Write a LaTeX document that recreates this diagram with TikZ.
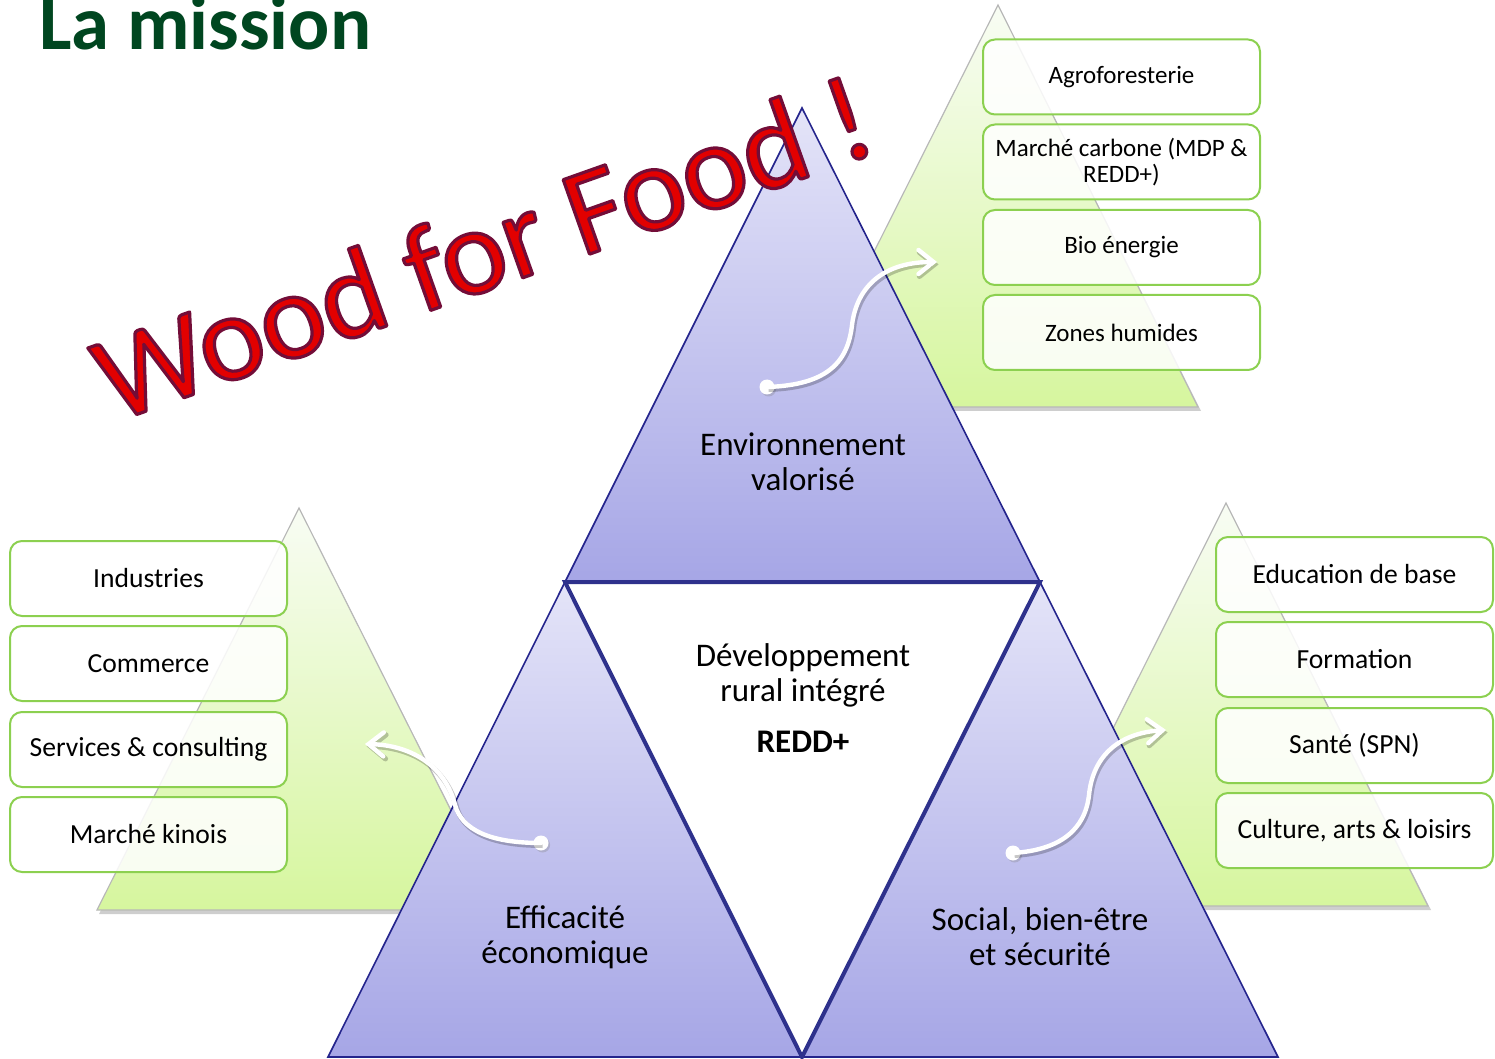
\documentclass[tikz,border=0pt]{standalone}
\usepackage{fontspec}
\setmainfont{Carlito}
\usetikzlibrary{arrows.meta,shadows}
\definecolor{titlegreen}{RGB}{0,70,32}
\definecolor{navy}{RGB}{36,36,140}
\definecolor{navythick}{RGB}{46,49,140}
\definecolor{boxgreen}{RGB}{140,208,80}
\definecolor{bluetop}{RGB}{228,228,248}
\definecolor{bluebot}{RGB}{166,166,230}
\definecolor{greentop}{RGB}{248,252,244}
\definecolor{greenbot}{RGB}{214,246,158}
\definecolor{wffred}{RGB}{226,0,0}
\newcommand\wfftext{Wood for Food !}
\newcommand\wffoutlineon{\special{pdf:literal direct 2 Tr 1.6 w 1 j 0.45 0.05 0.22 RG}}
\newcommand\wffoutlineoff{\special{pdf:literal direct 0 Tr}}
\begin{document}
\begin{tikzpicture}[x=0.5pt,y=-0.5pt,
  itembox/.style={draw=boxgreen, line width=1pt, rounded corners=6pt, fill=white,
    fill opacity=0.86, text opacity=1, minimum width=138.5pt, minimum height=37.5pt,
    inner sep=2pt, align=center, font=\fontsize{13.8}{14}\selectfont},
  topbox/.style={itembox, font=\fontsize{12.5}{13}\selectfont},
  trilabel/.style={align=center, font=\fontsize{16.5}{17.5}\selectfont},
  greentri/.style={top color=greentop, bottom color=greenbot, draw=black!28, line width=0.6pt},
  greenshadow/.style={fill=black!55, opacity=0.35},
  bluetri/.style={top color=bluetop, bottom color=bluebot, draw=navy, line width=0.8pt},
  wdot/.style={circle, fill=white, inner sep=0pt, minimum size=7.5pt,
    drop shadow={opacity=0.3, shadow xshift=0.8pt, shadow yshift=-1pt}},
  warrow/.style={draw=white, line width=2.2pt, line cap=round,
    -{Straight Barb[length=7.5pt,width=12pt,line cap=round]},
    preaction={draw=black, opacity=0.22, line width=2.6pt,
      transform canvas={xshift=0.8pt,yshift=-1.2pt}}},
  wfffont/.style={font=\fontsize{61.5}{61.5}\selectfont, inner sep=0pt, rotate=19.5}
]
\useasboundingbox (0,0) rectangle (1495,1059);

% ---------- green background pyramids ----------
\fill[greenshadow] (1000,9) -- (1201,411) -- (798,411) -- cycle;
\shade[greentri] (998,5) -- (1198,407) -- (796,407) -- cycle;
\fill[greenshadow] (301,512) -- (504,914) -- (99,914) -- cycle;
\shade[greentri] (299,508) -- (501,910) -- (97,910) -- cycle;
\fill[greenshadow] (1228,507) -- (1431,910) -- (1026,910) -- cycle;
\shade[greentri] (1226,503) -- (1428,906) -- (1024,906) -- cycle;

% ---------- item boxes ----------
\node[topbox] (agro) at (1121.5,77) {Agroforesterie};
\node[topbox] (carb) at (1121.5,162) {Marché carbone (MDP \&\\REDD+)};
\node[topbox] (bio)  at (1121.5,247.5) {Bio énergie};
\node[topbox] (zone) at (1121.5,332.5) {Zones humides};

\node[itembox] (indu) at (148.5,578.5) {Industries};
\node[itembox] (comm) at (148.5,663.5) {Commerce};
\node[itembox] (serv) at (148.5,749.5) {Services \& consulting};
\node[itembox] (kino) at (148.5,834.5) {Marché kinois};

\node[itembox] (educ) at (1354.5,574.5) {Education de base};
\node[itembox] (form) at (1354.5,659.5) {Formation};
\node[itembox] (sant) at (1354.5,745.5) {Santé (SPN)};
\node[itembox] (cult) at (1354.5,830.5) {Culture, arts \& loisirs};

% ---------- blue triangles ----------
\coordinate (apex) at (802,108);
\coordinate (ml) at (565,582);
\coordinate (mr) at (1040,582);
\coordinate (bl) at (328,1057);
\coordinate (bm) at (802,1057);
\coordinate (br) at (1278,1057);
\shade[bluetri] (apex) -- (mr) -- (ml) -- cycle;
\shade[bluetri] (ml) -- (bm) -- (bl) -- cycle;
\shade[bluetri] (mr) -- (br) -- (bm) -- cycle;
\filldraw[fill=white, draw=navythick, line width=2pt, line join=miter] (ml) -- (mr) -- (bm) -- cycle;

% ---------- labels ----------
\node[trilabel] (env) at (803,462) {Environnement\\valorisé};
\node[trilabel] (eco) at (565,937) {Efficacité\\économique};
\node[trilabel] (soc) at (1040,937) {Social, bien-être\\et sécurité};
\node[trilabel] (dev) at (803,675) {Développement\\rural intégré};
\node[font=\fontsize{16.5}{17.5}\selectfont\bfseries] (redd) at (803,742) {REDD+};

% ---------- white curved arrows ----------
\node[wdot] (dT) at (767,387) {};
\coordinate (eT) at (937,262);
\draw[warrow] (dT.center) .. controls (830,385) and (848,360) .. (852,325)
  .. controls (857,285) and (885,262) .. (eT);

\node[wdot] (dL) at (541,843) {};
\coordinate (eL) at (365,744);
\draw[warrow] (dL.center) .. controls (490,843) and (462,830) .. (455,805)
  .. controls (445,765) and (410,745) .. (eL);

\node[wdot] (dR) at (1013,853) {};
\coordinate (eR) at (1166,730);
\draw[warrow] (dR.center) .. controls (1060,850) and (1085,830) .. (1089,795)
  .. controls (1093,755) and (1120,733) .. (eR);

% ---------- Wood for Food ! ----------
\node[wfffont, text=wffred] (wff) at (483,247) {\wffoutlineon\wfftext\wffoutlineoff};

% ---------- title ----------
\node[anchor=base west, inner sep=0pt, text=titlegreen,
  font=\fontsize{38.4}{40}\selectfont\bfseries] (title) at (39,49.5) {La mission};
\end{tikzpicture}
\end{document}
